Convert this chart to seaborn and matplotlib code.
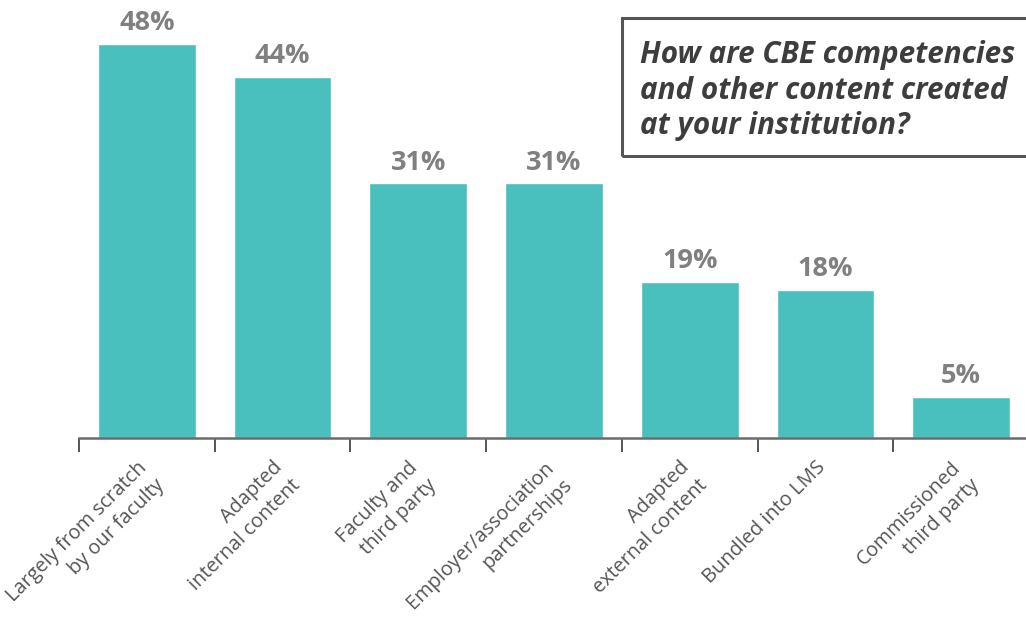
import matplotlib
matplotlib.use("Agg")
import matplotlib.pyplot as plt
import matplotlib.patches as mpatches
import matplotlib.transforms as mtransforms
import seaborn as sns
import numpy as np

# data
categories = [
    "Largely from scratch\nby our faculty",
    "Adapted\ninternal content",
    "Faculty and\nthird party",
    "Employer/association\npartnerships",
    "Adapted\nexternal content",
    "Bundled into LMS",
    "Commissioned\nthird party",
]
values = [48, 44, 31, 31, 19, 18, 5]
title = "How are CBE competencies\nand other content created\nat your institution?"

bar_color = "#49C0BD"

sns.set_theme(style="white")
plt.rcParams["font.family"] = ["Open Sans", "DejaVu Sans"]

fig = plt.figure(figsize=(10.26, 6.17), dpi=100)
ax = fig.add_axes([79 / 1026, (617 - 438) / 617, 950 / 1026, 410.5 / 617])

sns.barplot(x=categories, y=values, color=bar_color, saturation=1, width=0.72, ax=ax)

ax.set_ylim(0, 50)
ax.set_xlim(-0.5, len(categories) - 0.5)
ax.set_yticks([])
ax.set_xlabel("")
ax.set_ylabel("")
for s in ["top", "right", "left"]:
    ax.spines[s].set_visible(False)
ax.spines["bottom"].set_color("#6b6b6b")
ax.spines["bottom"].set_linewidth(1.8)

# boundary tick marks
ax.set_xticks(np.arange(len(categories) + 1) - 0.5, minor=True)
ax.tick_params(axis="x", which="minor", length=10, width=1.4, color="#555555", bottom=True)
# labels: top-right corner of the block, nudged so the first line ends under the bar centre
ax.tick_params(axis="x", which="major", length=0, pad=14)
ax.set_xticks(range(len(categories)))
ax.set_xticklabels(categories, rotation=45, ha="right", va="top",
                   rotation_mode="anchor", multialignment="right",
                   fontsize=14.3, color="#555555", linespacing=1.35)
shift = mtransforms.ScaledTranslation(-10 / 100, 0, fig.dpi_scale_trans)
for lab in ax.get_xticklabels():
    lab.set_transform(lab.get_transform() + shift)

# value labels
for i, v in enumerate(values):
    ax.annotate(f"{v}%", (i, v), xytext=(0, 10), textcoords="offset points",
                ha="center", va="baseline", fontsize=19.5, fontweight="bold",
                color="#808080")

# title box
rect = mpatches.Rectangle((622 / 1026, (617 - 156) / 617), 0.5, 138 / 617,
                          transform=fig.transFigure, fill=False,
                          edgecolor="#555555", linewidth=2.2)
fig.patches.append(rect)
fig.text(640 / 1026, 1 - 40 / 617, title, ha="left", va="top",
         fontsize=21.3, fontweight="bold", fontstyle="italic",
         color="#3d3d3d", linespacing=1.24)

fig.savefig("out.png", dpi=100)
